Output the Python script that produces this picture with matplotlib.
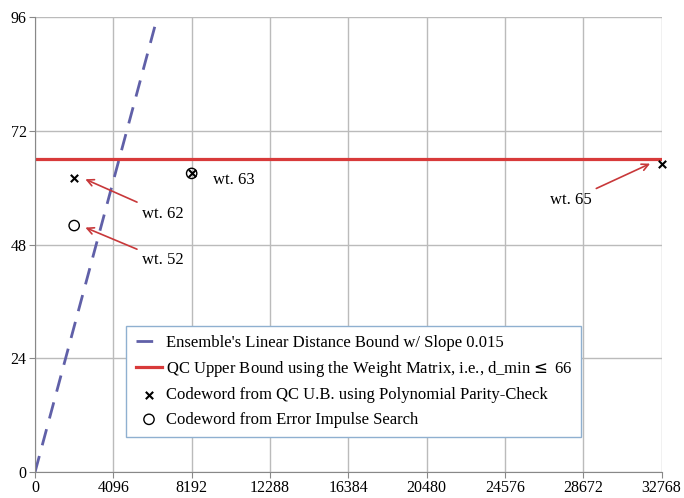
import numpy as np
import matplotlib
matplotlib.use("Agg")
import matplotlib.pyplot as plt

plt.rcParams['font.family'] = ['Liberation Serif', 'DejaVu Serif']

# data
bound_x = [0, 6400]
slope = 0.015
qc_ub = 66
poly_x = [2048, 8192, 32768]
poly_y = [62, 63, 65]
imp_x = [2048, 8192]
imp_y = [52, 63]
xticks = [0, 4096, 8192, 12288, 16384, 20480, 24576, 28672, 32768]
yticks = [0, 24, 48, 72, 96]

fig = plt.figure(figsize=(6.84, 4.98), dpi=100)
ax = fig.add_axes([0.0512, 0.052, 0.916, 0.914])

bx = np.array(bound_x)
ax.plot(bx, slope * bx, color='#6060a8', lw=2, dashes=(6, 4),
        label="Ensemble's Linear Distance Bound w/ Slope 0.015")
ax.plot([0, 32768], [qc_ub, qc_ub], color='#d83a3a', lw=2.3,
        label="QC Upper Bound using the Weight Matrix, i.e., d_min$\\leq$ 66")
ax.scatter(poly_x, poly_y, marker='x', color='black', s=28, lw=1.5, zorder=5, clip_on=False,
           label="Codeword from QC U.B. using Polynomial Parity-Check")
ax.scatter(imp_x, imp_y, marker='o', facecolor='none', edgecolor='black', s=55, lw=1, zorder=5,
           label="Codeword from Error Impulse Search")

arr = dict(arrowstyle='->', color='#c8383a', lw=1.2)
ax.annotate('wt. 62', xy=(2500, 62), xytext=(6700, 54.5), ha='center', va='center',
            fontsize=12, arrowprops=arr)
ax.annotate('wt. 52', xy=(2500, 51.8), xytext=(6700, 44.7), ha='center', va='center',
            fontsize=12, arrowprops=arr)
ax.text(10400, 61.7, 'wt. 63', ha='center', va='center', fontsize=12)
ax.annotate('wt. 65', xy=(32300, 65.3), xytext=(28000, 57.3), ha='center', va='center',
            fontsize=12, arrowprops=arr)

ax.set_xlim(0, 32768)
ax.set_ylim(0, 96)
ax.set_xticks(xticks)
ax.set_yticks(yticks)
ax.tick_params(labelsize=11.5, color='#888888', length=4, direction='out', pad=2)
ax.grid(True, color='#bbbbbb', lw=1)
ax.set_axisbelow(True)
for s in ['top', 'right']:
    ax.spines[s].set_visible(False)
for s in ['left', 'bottom']:
    ax.spines[s].set_color('#888888')

leg = ax.legend(loc='upper left', bbox_to_anchor=(0.146, 0.322), borderaxespad=0, fontsize=12,
                frameon=True, fancybox=False, edgecolor='#8fb0d0', framealpha=1,
                handlelength=1.6, handletextpad=0.2, borderpad=0.55, labelspacing=0.5)
leg.get_frame().set_linewidth(1)

fig.savefig('out.png', dpi=100)
